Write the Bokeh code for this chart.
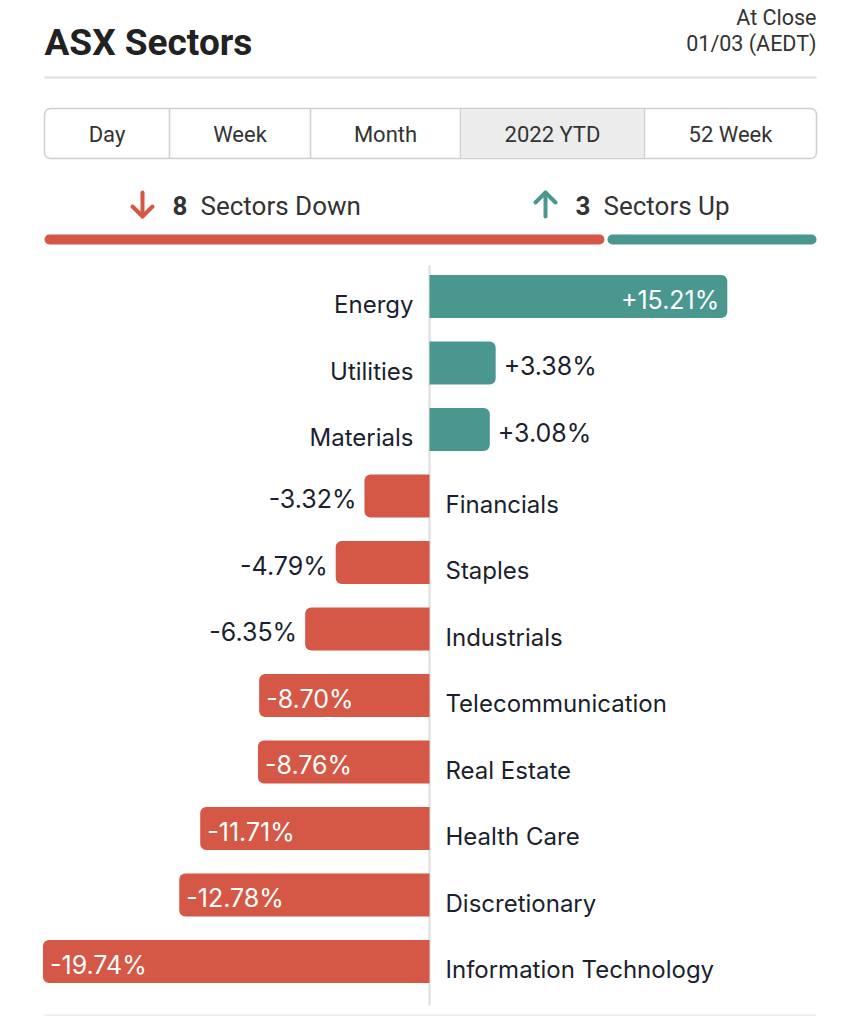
from bokeh.plotting import figure
from bokeh.models import Range1d, ColumnDataSource
from bokeh.layouts import column
from bokeh.embed import file_html
from bokeh.resources import INLINE
from bokeh.core.properties import value

# ---------------- data ----------------
title = "ASX Sectors"
close_lines = ["At Close", "01/03 (AEDT)"]
periods = ["Day", "Week", "Month", "2022 YTD", "52 Week"]
active_period = "2022 YTD"
sectors = ["Energy", "Utilities", "Materials", "Financials", "Staples", "Industrials",
           "Telecommunication", "Real Estate", "Health Care", "Discretionary",
           "Information Technology"]
changes = [15.21, 3.38, 3.08, -3.32, -4.79, -6.35, -8.70, -8.76, -11.71, -12.78, -19.74]

# ---------------- style ----------------
RED = "#D55745"
TEAL = "#4A978F"
INK = "#1B1F2E"
HEAD_FONT = value("Roboto")
BODY_FONT = value("Inter")
W = 836
HEAD_H = 250


def base_fig(height, xr, yr):
    f = figure(width=W, height=height, x_range=xr, y_range=yr, output_backend="svg",
               toolbar_location=None, min_border=0, outline_line_color=None,
               background_fill_color="white", border_fill_color="white")
    f.axis.visible = False
    f.grid.visible = False
    return f


# ---------------- header ----------------
h = base_fig(HEAD_H, Range1d(0, W), Range1d(HEAD_H, 0))
h.text(x=[44], y=[42], text=[title], text_font=HEAD_FONT, text_font_style="bold",
       text_font_size="37px", text_color="#222222", text_align="left", text_baseline="middle")
h.text(x=[816, 816], y=[17, 43], text=close_lines, text_font=HEAD_FONT, text_font_size="21.5px",
       text_color="#333333", text_align="right", text_baseline="middle")
h.segment(x0=[44], y0=[77], x1=[816], y1=[77], line_color="#dddddd", line_width=2)

edges = [44, 169, 310, 460, 644, 816]
centers = [(a + b) / 2 for a, b in zip(edges[:-1], edges[1:])]
h.quad(left=[44], right=[816], top=[108], bottom=[158], fill_color="white",
       line_color="#cfcfcf", line_width=1.5, border_radius=6)
ai = periods.index(active_period)
h.quad(left=[edges[ai] + 1], right=[edges[ai + 1] - 1], top=[109], bottom=[157],
       fill_color="#ececec", line_color=None)
h.segment(x0=edges[1:-1], y0=[108] * 4, x1=edges[1:-1], y1=[158] * 4,
          line_color="#cfcfcf", line_width=1.5)
h.text(x=centers, y=[134] * len(periods), text=periods, text_font=HEAD_FONT,
       text_font_size="22px", text_color="#333333", text_align="center", text_baseline="middle")

n_down = sum(1 for c in changes if c < 0)
n_up = sum(1 for c in changes if c > 0)

# arrows
h.multi_line(xs=[[142, 142], [132, 142, 152]], ys=[[192, 216], [206, 216, 206]],
             line_color=RED, line_width=4, line_cap="round", line_join="round")
h.multi_line(xs=[[545, 545], [535, 545, 555]], ys=[[216, 192], [202, 192, 202]],
             line_color=TEAL, line_width=4, line_cap="round", line_join="round")
h.text(x=[172, 575], y=[205, 205], text=[str(n_down), str(n_up)], text_font=HEAD_FONT,
       text_font_style="bold", text_font_size="26px", text_color="#333333",
       text_align="left", text_baseline="middle")
h.text(x=[200, 603], y=[205, 205], text=["Sectors Down", "Sectors Up"], text_font=HEAD_FONT,
       text_font_size="26px", text_color="#333333", text_align="left", text_baseline="middle")

split = 44 + (816 - 44) * n_down / (n_down + n_up)
h.quad(left=[44], right=[split - 1.5], top=[234], bottom=[244], fill_color=RED,
       line_color=None, border_radius=5)
h.quad(left=[split + 1.5], right=[816], top=[234], bottom=[244], fill_color=TEAL,
       line_color=None, border_radius=5)

# ---------------- chart ----------------
S = 19.58      # px per percent
X0 = 429       # zero position on page
ROW = 66.5
Y0 = 296
c = base_fig(1016 - HEAD_H, Range1d((0 - X0) / S, (W - X0) / S),
             Range1d((1016 - Y0) / ROW, (HEAD_H - Y0) / ROW))

idx = list(range(len(sectors)))
pos = [i for i in idx if changes[i] >= 0]
neg = [i for i in idx if changes[i] < 0]

c.segment(x0=[0], y0=[-0.47], x1=[0], y1=[len(sectors) - 1 + 0.66],
          line_color="#dddddd", line_width=2)
c.segment(x0=[(44 - X0) / S], y0=[len(sectors) - 1 + 0.81], x1=[(816 - X0) / S],
          y1=[len(sectors) - 1 + 0.81], line_color="#eeeeee", line_width=2)

src_pos = ColumnDataSource(dict(y=pos, v=[changes[i] for i in pos]))
src_neg = ColumnDataSource(dict(y=neg, v=[changes[i] for i in neg]))
c.hbar(y="y", left=0, right="v", height=0.65, source=src_pos, fill_color=TEAL,
       line_color=None, border_radius=(0, 6, 6, 0))
c.hbar(y="y", left="v", right=0, height=0.65, source=src_neg, fill_color=RED,
       line_color=None, border_radius=(6, 0, 0, 6))

# category labels
c.text(x=[0] * len(pos), y=pos, text=[sectors[i] for i in pos], x_offset=-16, y_offset=8,
       text_font=BODY_FONT, text_font_size="24px", text_color=INK,
       text_align="right", text_baseline="middle")
c.text(x=[0] * len(neg), y=neg, text=[sectors[i] for i in neg], x_offset=16, y_offset=8,
       text_font=BODY_FONT, text_font_size="24px", text_color=INK,
       text_align="left", text_baseline="middle")

# value labels
INSIDE = 8.0
lab = dict(x=[], y=[], text=[], dx=[], align=[], color=[])
for i in idx:
    v = changes[i]
    t = ("+" if v > 0 else "") + f"{v:.2f}%"
    inside = abs(v) >= INSIDE
    if v >= 0:
        dx, al = (-8, "right") if inside else (8, "left")
    else:
        dx, al = (7, "left") if inside else (-8, "right")
    lab["x"].append(v); lab["y"].append(i); lab["text"].append(t)
    lab["dx"].append(dx); lab["align"].append(al)
    lab["color"].append("white" if inside else INK)
c.text(x="x", y="y", text="text", x_offset="dx", y_offset=3, text_align="align",
       text_color="color", source=ColumnDataSource(lab), text_font=BODY_FONT,
       text_font_size="25px", text_baseline="middle")

layout = column(h, c, spacing=0)
open("out.html", "w").write(file_html(layout, INLINE))
